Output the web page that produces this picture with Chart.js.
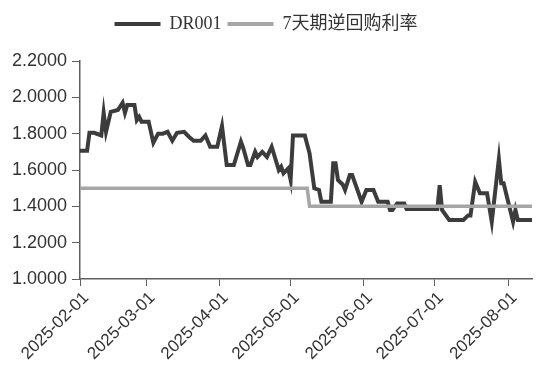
<!DOCTYPE html>
<html><head><meta charset="utf-8">
<script src="https://cdn.jsdelivr.net/npm/chart.js@4/dist/chart.umd.min.js"></script>
<style>html,body{margin:0;padding:0;background:#fff;overflow:hidden}</style>
</head><body>
<canvas id="c" width="548" height="389"></canvas>
<script>
const seriesNames = ['DR001', '7天期逆回购利率'];
const drDates = ['2025-02-01','2025-02-04','2025-02-05','2025-02-07','2025-02-10','2025-02-11','2025-02-12','2025-02-14','2025-02-17','2025-02-19','2025-02-20','2025-02-21','2025-02-24','2025-02-25','2025-02-26','2025-02-27','2025-03-02','2025-03-04','2025-03-06','2025-03-08','2025-03-10','2025-03-12','2025-03-14','2025-03-17','2025-03-19','2025-03-21','2025-03-24','2025-03-26','2025-03-28','2025-03-31','2025-04-02','2025-04-04','2025-04-07','2025-04-10','2025-04-11','2025-04-13','2025-04-14','2025-04-16','2025-04-17','2025-04-19','2025-04-21','2025-04-23','2025-04-26','2025-04-27','2025-04-28','2025-04-30','2025-05-01','2025-05-02','2025-05-07','2025-05-09','2025-05-11','2025-05-13','2025-05-14','2025-05-18','2025-05-19','2025-05-20','2025-05-21','2025-05-23','2025-05-24','2025-05-26','2025-05-27','2025-05-31','2025-06-02','2025-06-05','2025-06-07','2025-06-11','2025-06-12','2025-06-13','2025-06-15','2025-06-18','2025-06-19','2025-07-02','2025-07-03','2025-07-04','2025-07-07','2025-07-13','2025-07-15','2025-07-16','2025-07-18','2025-07-20','2025-07-23','2025-07-25','2025-07-28','2025-07-29','2025-07-30','2025-08-03','2025-08-04','2025-08-05','2025-08-11'];
const drValues = [1.706,1.706,1.805,1.805,1.79,1.915,1.81,1.92,1.93,1.97,1.915,1.958,1.958,1.875,1.893,1.866,1.866,1.75,1.80,1.80,1.81,1.761,1.805,1.81,1.783,1.761,1.761,1.79,1.728,1.728,1.842,1.627,1.627,1.756,1.72,1.627,1.627,1.70,1.672,1.70,1.672,1.728,1.60,1.618,1.582,1.609,1.545,1.79,1.79,1.692,1.499,1.49,1.425,1.425,1.637,1.637,1.545,1.52,1.49,1.572,1.572,1.425,1.49,1.49,1.425,1.425,1.38,1.38,1.416,1.416,1.385,1.385,1.517,1.38,1.325,1.325,1.35,1.35,1.535,1.472,1.472,1.315,1.66,1.527,1.527,1.315,1.38,1.325,1.325];
const repoDates = ['2025-02-01','2025-05-08','2025-05-09','2025-08-11'];
const repoValues = [1.5,1.5,1.4,1.4];
const xTickDates = ['2025-02-01','2025-03-01','2025-04-01','2025-05-01','2025-06-01','2025-07-01','2025-08-01'];
const yTicks = [1.0,1.2,1.4,1.6,1.8,2.0,2.2];

const origin = Date.UTC(2025,1,1);
function dayOf(s){const p=s.split('-').map(Number);return Math.round((Date.UTC(p[0],p[1]-1,p[2])-origin)/86400000);}
const axisColor = '#5f5f5f';

const legendGap = {id:'legendGap', beforeLayout(chart){
  const lg = chart.legend;
  if (lg && !lg._gapPatched){ const f = lg.fit; lg.fit = function(){ f.call(this); this.height += 18; }; lg._gapPatched = true; }
}};

new Chart(document.getElementById('c'), {
  type:'line',
  plugins:[legendGap],
  data:{datasets:[
    {label:seriesNames[0], data:drDates.map((d,i)=>({x:dayOf(d),y:drValues[i]})), borderColor:'#3c3c3c', backgroundColor:'#3c3c3c', borderWidth:4, pointRadius:0, tension:0, order:1},
    {label:seriesNames[1], data:repoDates.map((d,i)=>({x:dayOf(d),y:repoValues[i]})), borderColor:'#a6a6a6', backgroundColor:'#a6a6a6', borderWidth:3.5, pointRadius:0, tension:0, order:0}
  ]},
  options:{
    responsive:false, animation:false, devicePixelRatio:1,
    layout:{padding:{left:0,right:16,top:9,bottom:0}},
    plugins:{
      tooltip:{enabled:false},
      legend:{position:'top',
        labels:{boxWidth:46, boxHeight:4, padding:6, color:'#333',
          font:{family:'"Liberation Serif", "Noto Sans CJK SC", serif', size:18},
          sort:(a,b)=>a.datasetIndex-b.datasetIndex,
          generateLabels:(chart)=>Chart.defaults.plugins.legend.labels.generateLabels(chart).map(l=>Object.assign(l,{lineWidth:0}))
        }}
    },
    scales:{
      x:{type:'linear', min:0, max:191,
        afterBuildTicks:s=>{s.ticks=xTickDates.map(d=>({value:dayOf(d)}));},
        ticks:{autoSkip:false, minRotation:45, maxRotation:45, color:'#333', labelOffset:6,
          font:{family:'"Liberation Sans", Arial, sans-serif', size:17}, padding:2,
          callback:(v,i)=>xTickDates[i]},
        grid:{drawOnChartArea:false, tickLength:7, color:axisColor},
        border:{color:axisColor, width:1.5},
        afterFit:s=>{s.height=110;}
      },
      y:{min:1, max:2.2,
        afterBuildTicks:s=>{s.ticks=yTicks.map(v=>({value:v}));},
        ticks:{color:'#333', font:{family:'"Liberation Sans", Arial, sans-serif', size:18}, padding:5, callback:v=>Number(v).toFixed(4)},
        grid:{drawOnChartArea:false, tickLength:8, color:axisColor},
        border:{color:axisColor, width:1.5},
        afterFit:s=>{s.width=80;}
      }
    }
  }
});
</script>
</body></html>
